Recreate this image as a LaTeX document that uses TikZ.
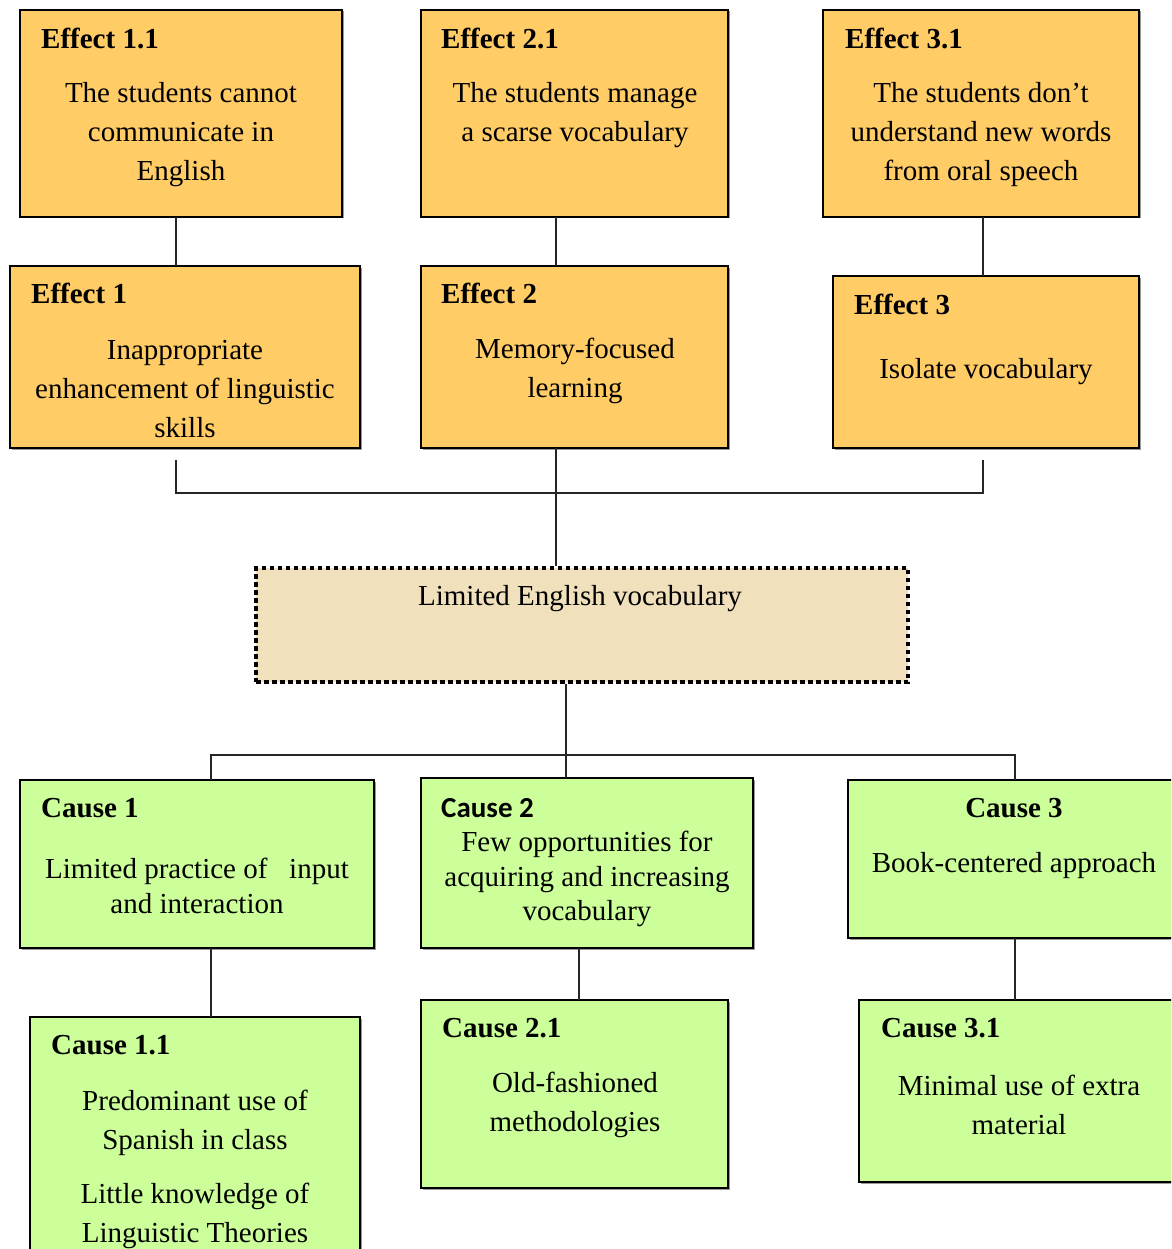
\documentclass[tikz,border=0pt]{standalone}
\usepackage{fontspec}
\setmainfont{Liberation Serif}
\newfontfamily\calibrifont{Carlito}
\usetikzlibrary{shadows}
\definecolor{effcol}{RGB}{255,204,102}
\definecolor{causecol}{RGB}{204,255,153}
\definecolor{paper}{RGB}{240,224,188}
\newcommand\fszA{\fontsize{29}{39}\selectfont}
\newcommand\fszB{\fontsize{29}{34.5}\selectfont}
\newcommand\mkbox[6]{\node[#2, minimum width={#5-#3}, minimum height={#6-#4}] (#1) at (#3,#4) {};}
\tikzset{
  box/.style={draw=black, line width=1.6pt, rectangle, inner sep=0pt, outer sep=0pt, anchor=north west,
    drop shadow={shadow xshift=1.5pt, shadow yshift=-1.5pt, fill=black!40, opacity=1}},
  effbox/.style={box, fill=effcol},
  causebox/.style={box, fill=causecol},
  ttl/.style={font=\fszA\bfseries, anchor=west, inner sep=0pt},
  body/.style={font=\fszA, align=center, inner sep=0pt},
  bodyB/.style={font=\fszB, align=center, inner sep=0pt},
  conn/.style={line width=1.6pt, draw=black!85},
}
\begin{document}
\begin{tikzpicture}[x=1pt,y=-1pt]
\useasboundingbox (0,0) rectangle (1171,1249);
\clip (0,0) rectangle (1171,1249);
\fill[white] (0,0) rectangle (1171,1249);

% connector x positions
\coordinate (xa) at (176,0);
\coordinate (xb) at (556,0);
\coordinate (xc) at (983,0);
\coordinate (xd) at (566,0);
\coordinate (x1) at (211,0);
\coordinate (x3) at (1015,0);
\coordinate (xe) at (579,0);
\coordinate (bus) at (566,755);
\coordinate (bl) at (176,460);
\coordinate (br) at (983,460);

% Effects level 2 (top)
\mkbox{e11}{effbox}{20}{10}{342}{217}
\node[ttl] (e11t) at (41,38) {Effect 1.1};
\node[body] (e11b) at (181,135) {The students cannot\\communicate in\\English};

\mkbox{e21}{effbox}{421}{10}{728}{217}
\node[ttl] (e21t) at (441,38) {Effect 2.1};
\node[body] (e21b) at (575,115.5) {The students manage\\a scarse vocabulary};

\mkbox{e31}{effbox}{823}{10}{1139}{217}
\node[ttl] (e31t) at (845,38) {Effect 3.1};
\node[body] (e31b) at (981,135) {The students don’t\\understand new words\\from oral speech};

% Effects level 1
\mkbox{e1}{effbox}{10}{266}{360}{448}
\node[ttl] (e1t) at (31,293) {Effect 1};
\node[body] (e1b) at (185,389) {Inappropriate\\enhancement of linguistic\\skills};

\mkbox{e2}{effbox}{421}{266}{728}{448}
\node[ttl] (e2t) at (441,293) {Effect 2};
\node[body] (e2b) at (575,371) {Memory-focused\\learning};

\mkbox{e3}{effbox}{833}{276}{1139}{448}
\node[ttl] (e3t) at (854,304) {Effect 3};
\node[body] (e3b) at (986,372) {Isolate vocabulary};

% central problem
\node[draw=black, line width=4pt, dash pattern=on 4.5pt off 3.5pt, fill=paper, rectangle, anchor=north west,
  minimum width=652, minimum height=114, inner sep=0pt] (ctr) at (254,566) {};
\node[body] (ctrt) at (580,599) {Limited English vocabulary};

% Causes level 1
\mkbox{c1}{causebox}{20}{780}{374}{948}
\node[ttl] (c1t) at (41,808) {Cause 1};
\node[bodyB] (c1b) at (197,886) {Limited practice of \ \ input\\and interaction};

\mkbox{c2}{causebox}{421}{778}{753}{948}
\node[ttl, font=\calibrifont\fszA\bfseries] (c2t) at (441,808) {Cause 2};
\node[bodyB] (c2b) at (587,879) {Few opportunities for\\acquiring and increasing\\vocabulary};

\mkbox{c3}{causebox}{848}{780}{1190}{938}
\node[ttl, anchor=center] (c3t) at (1014,808) {Cause 3};
\node[body] (c3b) at (1014,866) {Book-centered approach};

% Causes level 2
\mkbox{c11}{causebox}{30}{1017}{360}{1265}
\node[ttl] (c11t) at (51,1045) {Cause 1.1};
\node[body] (c11b) at (195,1122.5) {Predominant use of\\Spanish in class};
\node[body] (c11c) at (195,1216) {Little knowledge of\\Linguistic Theories};

\mkbox{c21}{causebox}{421}{1000}{728}{1188}
\node[ttl] (c21t) at (442,1028) {Cause 2.1};
\node[body] (c21b) at (575,1105) {Old-fashioned\\methodologies};

\mkbox{c31}{causebox}{859}{1000}{1190}{1182}
\node[ttl] (c31t) at (881,1028) {Cause 3.1};
\node[body] (c31b) at (1019,1105) {Minimal use of extra\\material};

% connectors
\draw[conn] (e11.south -| xa) -- (e1.north -| xa);
\draw[conn] (e21.south -| xb) -- (e2.north -| xb);
\draw[conn] (e31.south -| xc) -- (e3.north -| xc);
\draw[conn] (bl) -- ++(0,33) -| (br);
\draw[conn] (e2.south -| xb) -- (ctr.north -| xb);
\draw[conn] (ctr.south -| xd) -- (bus);
\draw[conn] (c1.north -| x1) -- (x1 |- bus) -- (x3 |- bus) -- (c3.north -| x3);
\draw[conn] (bus) -- (c2.north -| bus);
\draw[conn] (c1.south -| x1) -- (c11.north -| x1);
\draw[conn] (c2.south -| xe) -- (c21.north -| xe);
\draw[conn] (c3.south -| x3) -- (c31.north -| x3);
\end{tikzpicture}
\end{document}
